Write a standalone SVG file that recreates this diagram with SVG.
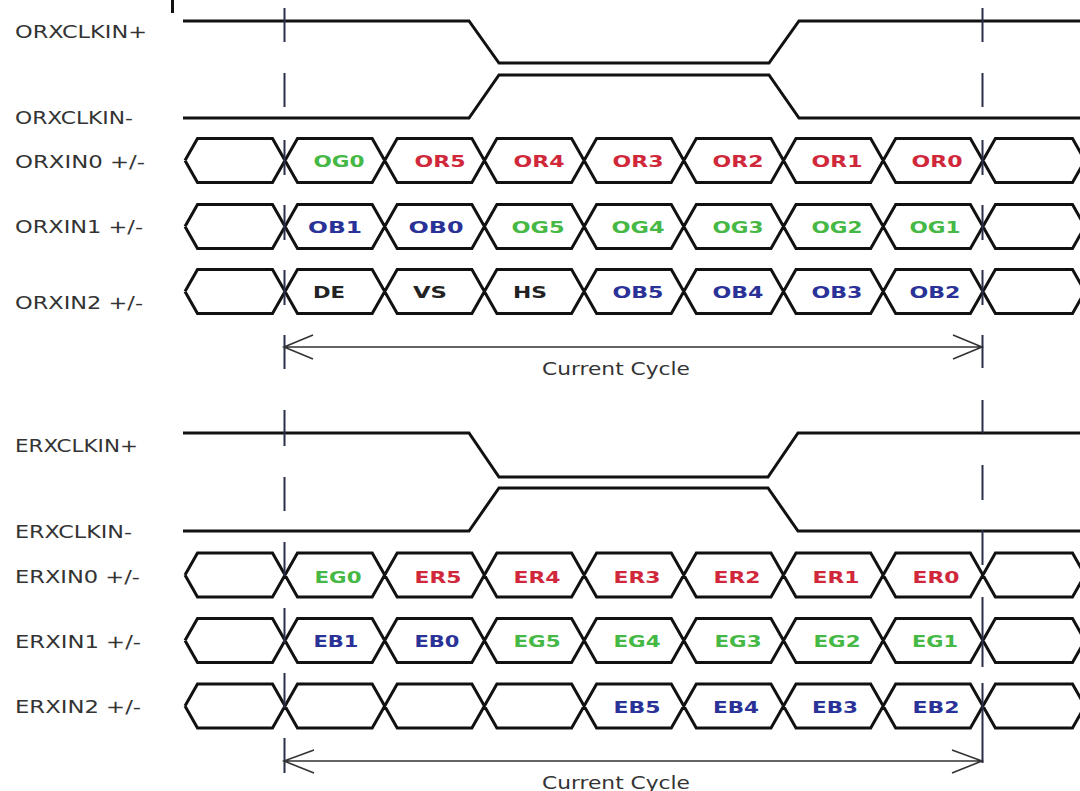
<svg xmlns="http://www.w3.org/2000/svg" xmlns:xlink="http://www.w3.org/1999/xlink" width="1080" height="791" viewBox="0 0 1080 791">
<style>
.lbl{font-family:"DejaVu Sans","Liberation Sans",sans-serif;font-size:17px;fill:#333}
.cell{font-family:"DejaVu Sans","Liberation Sans",sans-serif;font-size:16px;font-weight:bold;text-anchor:middle}
.g{fill:#45b845}.r{fill:#d0283a}.b{fill:#2b3297}.k{fill:#222}
.wave{fill:none;stroke:#111;stroke-width:3;stroke-linejoin:miter}
.mark{stroke:#2a2f4a;stroke-width:2}
.arr{fill:none;stroke:#333;stroke-width:1.6}
.cap{font-family:"DejaVu Sans","Liberation Sans",sans-serif;font-size:17px;fill:#333}
</style>
<defs>
<path id="bus" class="wave" d="M185,0 L197.5,-22 H272.5 L297.5,22 H372.2 L397.2,-22 H471.9 L496.9,22 H571.6 L596.6,-22 H671.3 L696.3,22 H771 L796,-22 H870.7 L895.7,22 H970.4 L995.4,-22 H1072.5 L1085,0 M185,0 L197.5,22 H272.5 L297.5,-22 H372.2 L397.2,22 H471.9 L496.9,-22 H571.6 L596.6,22 H671.3 L696.3,-22 H771 L796,22 H870.7 L895.7,-22 H970.4 L995.4,22 H1072.5 L1085,0"/>
</defs>
<rect width="1080" height="791" fill="#fff"/>
<line x1="172.5" y1="0" x2="172.5" y2="13" stroke="#111" stroke-width="3"/>

<g id="ORXCLKINp">
<text class="lbl" x="15" y="38" textLength="132" lengthAdjust="spacingAndGlyphs">ORXCLKIN+</text>
<path class="wave" d="M183,21 H469 L499,63 H769 L799,21 H1080"/>
</g>
<g id="ORXCLKINm">
<text class="lbl" x="15" y="124" textLength="118" lengthAdjust="spacingAndGlyphs">ORXCLKIN-</text>
<path class="wave" d="M183,118 H469 L499,75 H769 L799,118 H1080"/>
</g>
<g id="ORXIN0">
<text class="lbl" x="15" y="168" textLength="130" lengthAdjust="spacingAndGlyphs">ORXIN0 +/-</text>
<use xlink:href="#bus" href="#bus" transform="translate(0,160.5)"/>
<text class="cell g" x="339" y="167" textLength="51" lengthAdjust="spacingAndGlyphs">OG0</text>
<text class="cell r" x="440" y="167" textLength="51" lengthAdjust="spacingAndGlyphs">OR5</text>
<text class="cell r" x="539" y="167" textLength="51" lengthAdjust="spacingAndGlyphs">OR4</text>
<text class="cell r" x="638" y="167" textLength="51" lengthAdjust="spacingAndGlyphs">OR3</text>
<text class="cell r" x="738" y="167" textLength="51" lengthAdjust="spacingAndGlyphs">OR2</text>
<text class="cell r" x="837" y="167" textLength="51" lengthAdjust="spacingAndGlyphs">OR1</text>
<text class="cell r" x="937" y="167" textLength="51" lengthAdjust="spacingAndGlyphs">OR0</text>
</g>
<g id="ORXIN1">
<text class="lbl" x="15" y="233" textLength="128" lengthAdjust="spacingAndGlyphs">ORXIN1 +/-</text>
<use xlink:href="#bus" href="#bus" transform="translate(0,226.5)"/>
<text class="cell b" x="335" y="233" textLength="54" lengthAdjust="spacingAndGlyphs">OB1</text>
<text class="cell b" x="436" y="233" textLength="55" lengthAdjust="spacingAndGlyphs">OB0</text>
<text class="cell g" x="538" y="233" textLength="53" lengthAdjust="spacingAndGlyphs">OG5</text>
<text class="cell g" x="638" y="233" textLength="53" lengthAdjust="spacingAndGlyphs">OG4</text>
<text class="cell g" x="738" y="233" textLength="51" lengthAdjust="spacingAndGlyphs">OG3</text>
<text class="cell g" x="837" y="233" textLength="51" lengthAdjust="spacingAndGlyphs">OG2</text>
<text class="cell g" x="935" y="233" textLength="51" lengthAdjust="spacingAndGlyphs">OG1</text>
</g>
<g id="ORXIN2">
<text class="lbl" x="15" y="309" textLength="128" lengthAdjust="spacingAndGlyphs">ORXIN2 +/-</text>
<use xlink:href="#bus" href="#bus" transform="translate(0,291.5)"/>
<text class="cell k" x="329" y="298" textLength="32" lengthAdjust="spacingAndGlyphs">DE</text>
<text class="cell k" x="430" y="298" textLength="34" lengthAdjust="spacingAndGlyphs">VS</text>
<text class="cell k" x="530" y="298" textLength="34" lengthAdjust="spacingAndGlyphs">HS</text>
<text class="cell b" x="638" y="298" textLength="51" lengthAdjust="spacingAndGlyphs">OB5</text>
<text class="cell b" x="738" y="298" textLength="51" lengthAdjust="spacingAndGlyphs">OB4</text>
<text class="cell b" x="837" y="298" textLength="51" lengthAdjust="spacingAndGlyphs">OB3</text>
<text class="cell b" x="935" y="298" textLength="51" lengthAdjust="spacingAndGlyphs">OB2</text>
</g>

<g id="ERXCLKINp">
<text class="lbl" x="15" y="452" textLength="123" lengthAdjust="spacingAndGlyphs">ERXCLKIN+</text>
<path class="wave" d="M183,433 H469 L499,477 H768 L798,433 H1080"/>
</g>
<g id="ERXCLKINm">
<text class="lbl" x="15" y="538" textLength="117" lengthAdjust="spacingAndGlyphs">ERXCLKIN-</text>
<path class="wave" d="M183,531 H469 L499,488 H768 L798,531 H1080"/>
</g>
<g id="ERXIN0">
<text class="lbl" x="15" y="583" textLength="125" lengthAdjust="spacingAndGlyphs">ERXIN0 +/-</text>
<use xlink:href="#bus" href="#bus" transform="translate(0,575)"/>
<text class="cell g" x="338" y="583" textLength="47" lengthAdjust="spacingAndGlyphs">EG0</text>
<text class="cell r" x="438" y="583" textLength="47" lengthAdjust="spacingAndGlyphs">ER5</text>
<text class="cell r" x="537" y="583" textLength="47" lengthAdjust="spacingAndGlyphs">ER4</text>
<text class="cell r" x="637" y="583" textLength="47" lengthAdjust="spacingAndGlyphs">ER3</text>
<text class="cell r" x="737" y="583" textLength="47" lengthAdjust="spacingAndGlyphs">ER2</text>
<text class="cell r" x="836" y="583" textLength="47" lengthAdjust="spacingAndGlyphs">ER1</text>
<text class="cell r" x="936" y="583" textLength="47" lengthAdjust="spacingAndGlyphs">ER0</text>
</g>
<g id="ERXIN1">
<text class="lbl" x="15" y="648" textLength="126" lengthAdjust="spacingAndGlyphs">ERXIN1 +/-</text>
<use xlink:href="#bus" href="#bus" transform="translate(0,640.5)"/>
<text class="cell b" x="336" y="647" textLength="45" lengthAdjust="spacingAndGlyphs">EB1</text>
<text class="cell b" x="437" y="647" textLength="45" lengthAdjust="spacingAndGlyphs">EB0</text>
<text class="cell g" x="537" y="647" textLength="47" lengthAdjust="spacingAndGlyphs">EG5</text>
<text class="cell g" x="637" y="647" textLength="47" lengthAdjust="spacingAndGlyphs">EG4</text>
<text class="cell g" x="738" y="647" textLength="47" lengthAdjust="spacingAndGlyphs">EG3</text>
<text class="cell g" x="837" y="647" textLength="47" lengthAdjust="spacingAndGlyphs">EG2</text>
<text class="cell g" x="935" y="647" textLength="46" lengthAdjust="spacingAndGlyphs">EG1</text>
</g>
<g id="ERXIN2">
<text class="lbl" x="15" y="713" textLength="126" lengthAdjust="spacingAndGlyphs">ERXIN2 +/-</text>
<use xlink:href="#bus" href="#bus" transform="translate(0,706)"/>
<text class="cell b" x="637" y="713" textLength="47" lengthAdjust="spacingAndGlyphs">EB5</text>
<text class="cell b" x="736" y="713" textLength="46" lengthAdjust="spacingAndGlyphs">EB4</text>
<text class="cell b" x="835" y="713" textLength="46" lengthAdjust="spacingAndGlyphs">EB3</text>
<text class="cell b" x="936" y="713" textLength="47" lengthAdjust="spacingAndGlyphs">EB2</text>
</g>

<g id="connectors">
<path class="mark" d="M284.5,8V42M284.5,73V107M284.5,140V175M284.5,205V240M284.5,270V305M284.5,335V369M284.5,410V446M284.5,477V511M284.5,542V576M284.5,608V643M284.5,673V708M284.5,738V773"/>
<path class="mark" d="M982.5,8V42M982.5,73V107M982.5,140V175M982.5,205V240M982.5,270V305M982.5,335V368M982.5,400V433M982.5,465V500M982.5,530V565M982.5,597V667M982.5,683V763"/>
<path class="arr" d="M284,347H982M313,335L284,347L313,359M953,335L982,347L953,359"/>
<text class="cap" x="542" y="375" textLength="148" lengthAdjust="spacingAndGlyphs">Current Cycle</text>
<path class="arr" d="M284,761H982M314,750L284,761L314,773M952,750L982,761L952,773"/>
<text class="cap" x="542" y="789" textLength="148" lengthAdjust="spacingAndGlyphs">Current Cycle</text>
</g>
</svg>
